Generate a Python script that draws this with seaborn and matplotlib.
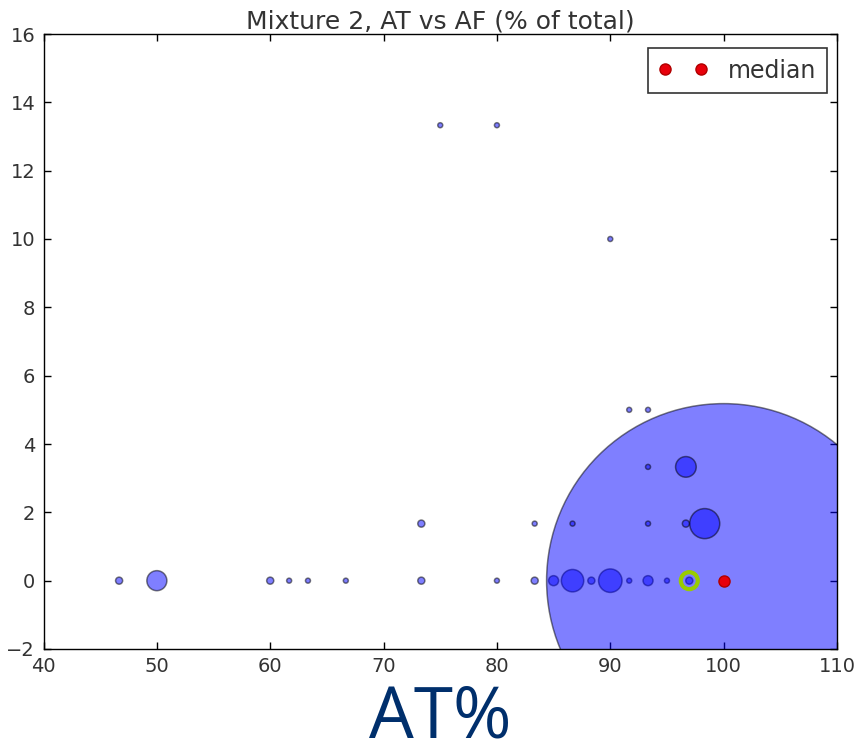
import matplotlib
matplotlib.use("Agg")
import matplotlib.pyplot as plt
import seaborn as sns
import numpy as np
import pandas as pd

# ---- data ----
at_pct = [46.67, 50.0, 60.0, 61.67, 63.33, 66.67, 73.33, 80.0, 83.33, 85.0, 86.67, 88.33,
          90.0, 91.67, 93.33, 95.0, 96.97, 100.0,
          73.33, 83.33, 86.67, 93.33, 96.67, 98.33,
          93.33, 96.67,
          91.67, 93.33,
          90.0,
          75.0, 80.0]
af_pct = [0.0] * 18 + [1.67] * 6 + [3.33] * 2 + [5.0] * 2 + [10.0] + [13.33] * 2
counts = [2, 16, 2, 1, 1, 1, 2, 1, 2, 4, 20, 2,
          22, 1, 4, 1, 2, 5000,
          2, 1, 1, 1, 2, 36,
          1, 17,
          1, 1,
          1,
          1, 1]
median_at = [100.0]
median_af = [0.0]
highlight_at = [96.97]
highlight_af = [0.0]

x_ticks = [40, 50, 60, 70, 80, 90, 100, 110]
y_ticks = [-2, 0, 2, 4, 6, 8, 10, 12, 14, 16]

df = pd.DataFrame({"AT": at_pct, "AF": af_pct, "count": counts})

sns.set_style("white")
plt.rcParams["font.family"] = ["DejaVu Sans"]

fig = plt.figure(figsize=(8.58, 7.56), dpi=100)
ax = fig.add_axes([43.5 / 858, 1 - 649 / 756, 793.5 / 858, 615 / 756])

sns.scatterplot(data=df, x="AT", y="AF", size="count",
                sizes=(13, 13 * 5000), size_norm=(1, 5000),
                color="b", alpha=0.5, edgecolor="k", linewidth=1.1,
                legend=False, ax=ax, zorder=2)

ax.plot(median_at, median_af, "o", color="#e8000b", mec="#b00000",
        markersize=8, label="median", zorder=3)
sns.scatterplot(x=highlight_at, y=highlight_af, s=150, facecolors="none",
                edgecolor="#99cc00", linewidth=3, ax=ax, zorder=4, legend=False)

ax.set_xlim(40, 110)
ax.set_ylim(-2, 16)
ax.set_xticks(x_ticks)
ax.set_yticks(y_ticks)
ax.set_yticklabels(["\u22122" if v < 0 else str(v) for v in y_ticks])

for s in ax.spines.values():
    s.set_color("black")
    s.set_linewidth(1.0)
    s.set_visible(True)

ax.tick_params(direction="in", length=5, width=1, top=True, right=True,
               bottom=True, left=True, labelsize=14, labelcolor="#333333",
               pad=6, colors="black")
ax.tick_params(labelcolor="#333333")

ax.set_title("Mixture 2, AT vs AF (% of total)", fontsize=18, color="#333333", pad=4)
ax.set_ylabel("")
ax.set_xlabel("AT%", fontsize=51, color="#002F6C", family=["Open Sans", "DejaVu Sans"])
ax.xaxis.set_label_coords(0.5, (649 - 737) / 615)
ax.xaxis.label.set_va("baseline")

leg = ax.legend(loc="upper right", numpoints=2, fontsize=17, frameon=True,
                fancybox=False, handlelength=2.1, handletextpad=0.85,
                borderpad=0.45, borderaxespad=0,
                bbox_to_anchor=(1 - 10 / 793.5, 1 - 14 / 615))
leg.get_frame().set_edgecolor("black")
leg.get_frame().set_linewidth(1.2)
for t in leg.get_texts():
    t.set_color("#333333")

fig.savefig("out.png", dpi=100)
